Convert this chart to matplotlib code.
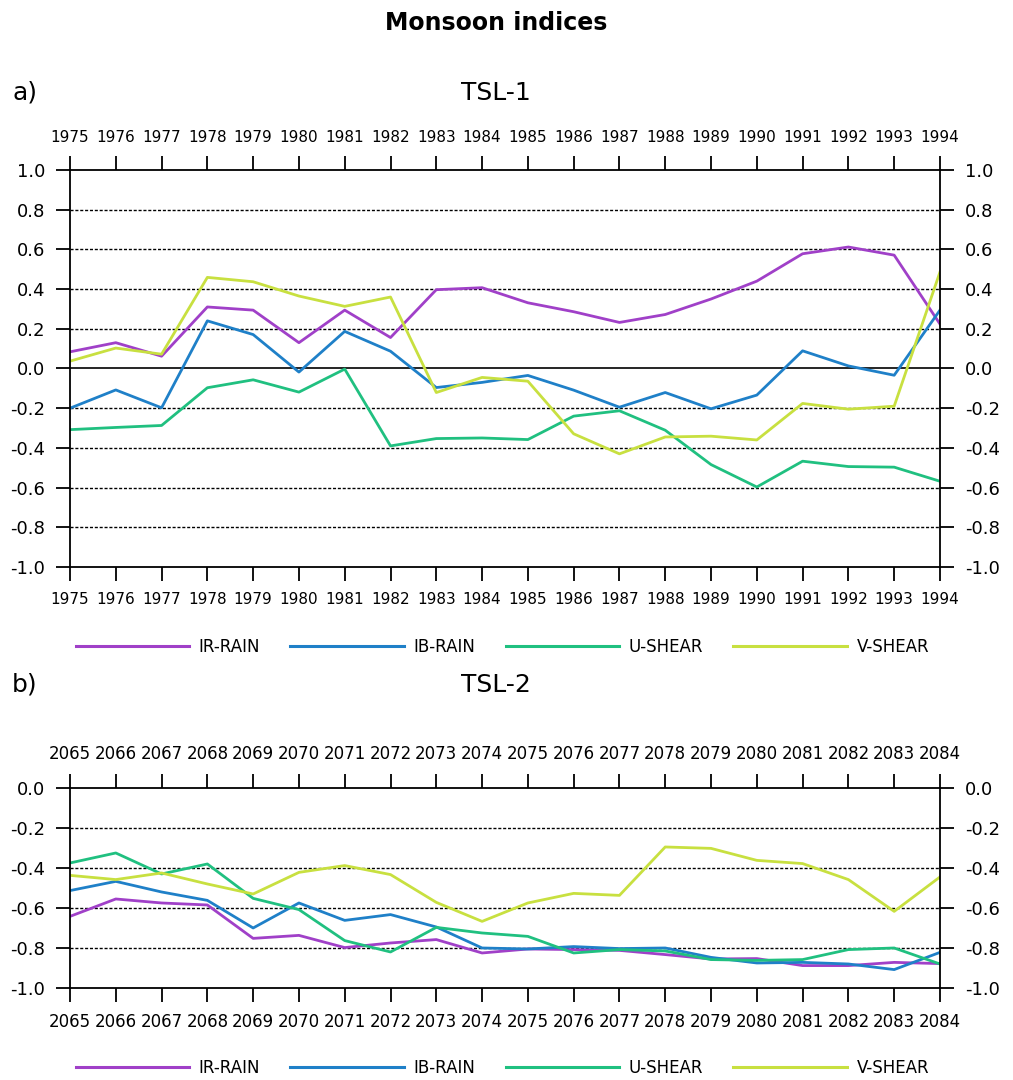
import numpy as np
import matplotlib.pyplot as plt

names = ["IR-RAIN", "IB-RAIN", "U-SHEAR", "V-SHEAR"]
colors = ["#a040c8", "#1f80c8", "#20c080", "#c8e040"]

years_a = np.arange(1975, 1995)
ir_a = [0.084, 0.13, 0.062, 0.31, 0.294, 0.13, 0.294, 0.156, 0.397, 0.407,
        0.331, 0.286, 0.232, 0.272, 0.35, 0.44, 0.578, 0.612, 0.571, 0.224]
ib_a = [-0.2, -0.108, -0.198, 0.24, 0.171, -0.018, 0.187, 0.087, -0.096, -0.07,
        -0.035, -0.109, -0.195, -0.121, -0.203, -0.134, 0.089, 0.013, -0.034, 0.294]
u_a = [-0.308, -0.297, -0.287, -0.097, -0.057, -0.119, -0.003, -0.39, -0.353, -0.35,
       -0.358, -0.24, -0.213, -0.311, -0.484, -0.597, -0.467, -0.494, -0.497, -0.568]
v_a = [0.037, 0.103, 0.072, 0.459, 0.437, 0.365, 0.313, 0.36, -0.121, -0.045,
       -0.064, -0.329, -0.43, -0.345, -0.341, -0.36, -0.176, -0.205, -0.19, 0.486]

years_b = np.arange(2065, 2085)
ir_b = [-0.642, -0.555, -0.575, -0.585, -0.752, -0.737, -0.798, -0.775, -0.758, -0.825,
        -0.805, -0.808, -0.812, -0.833, -0.855, -0.853, -0.888, -0.888, -0.872, -0.878]
ib_b = [-0.513, -0.467, -0.52, -0.562, -0.7, -0.575, -0.662, -0.633, -0.695, -0.8,
        -0.805, -0.793, -0.803, -0.8, -0.847, -0.875, -0.872, -0.88, -0.908, -0.822]
u_b = [-0.375, -0.325, -0.43, -0.38, -0.552, -0.608, -0.763, -0.82, -0.697, -0.725,
       -0.742, -0.825, -0.808, -0.815, -0.858, -0.862, -0.858, -0.808, -0.8, -0.88]
v_b = [-0.437, -0.458, -0.425, -0.48, -0.53, -0.422, -0.388, -0.433, -0.572, -0.667,
       -0.575, -0.527, -0.537, -0.295, -0.302, -0.362, -0.378, -0.458, -0.617, -0.445]

fig = plt.figure(figsize=(10.13, 10.8), dpi=100)
fig.text(0.49, 0.979, "Monsoon indices", ha="center", va="center", fontsize=17, fontweight="bold")


def panel(rect, years, series, ylo, yhi, letter, title, title_y, leg_y, lblsize):
    ax = fig.add_axes(rect)
    for s, c, n in zip(series, colors, names):
        ax.plot(years, s, color=c, lw=2.0, label=n)
    ax.set_xlim(years[0], years[-1])
    ax.set_ylim(ylo, yhi)
    yt = np.round(np.arange(ylo, yhi + 0.01, 0.2), 1)
    for y in yt[1:-1]:
        if abs(y) < 1e-9:
            ax.axhline(0, color="black", lw=1.2, zorder=1)
        else:
            ax.axhline(y, color="black", lw=1.0, ls=(0, (2.2, 1.3)), zorder=1)
    ax.set_yticks(yt)
    ax.set_yticklabels(["%.1f" % (v if abs(v) > 1e-9 else 0.0) for v in yt])
    ax.set_xticks(years)
    ax.tick_params(direction="out", length=10, width=1.3, labelsize=lblsize,
                   top=True, labeltop=True, right=True, labelright=True, pad=8)
    ax.tick_params(axis="y", labelsize=13)
    for sp in ax.spines.values():
        sp.set_linewidth(1.3)
    fig.text(0.012, title_y, letter, ha="left", va="center", fontsize=18)
    fig.text(0.49, title_y, title, ha="center", va="center", fontsize=18)
    leg = fig.legend(*ax.get_legend_handles_labels(), loc="center", bbox_to_anchor=(0.496, leg_y),
                     ncol=4, frameon=False, fontsize=12,
                     handlelength=6.8, handletextpad=0.6, columnspacing=1.8)
    for h in leg.get_lines():
        h.set_linewidth(2.2)
    return ax


panel([0.0691, 0.475, 0.8588, 0.3676], years_a, [ir_a, ib_a, u_a, v_a], -1.0, 1.0,
      "a)", "TSL-1", 0.914, 0.401, 11)
panel([0.0691, 0.0852, 0.8588, 0.1852], years_b, [ir_b, ib_b, u_b, v_b], -1.0, 0.0,
      "b)", "TSL-2", 0.366, 0.011, 12)

plt.savefig("out.png")
